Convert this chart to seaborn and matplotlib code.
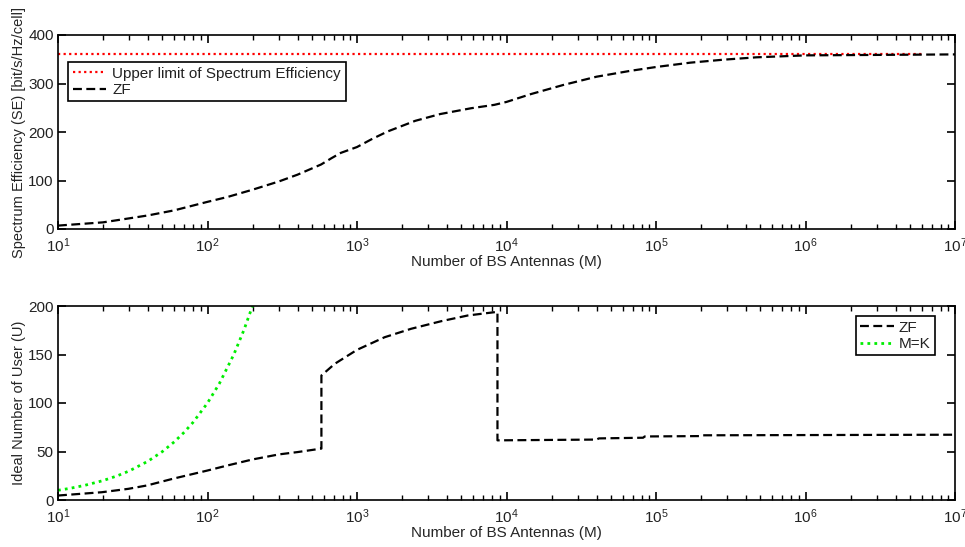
import matplotlib
matplotlib.use("Agg")
import matplotlib.pyplot as plt
import seaborn as sns
import pandas as pd
import numpy as np
from matplotlib.ticker import LogLocator, LogFormatterMathtext, NullFormatter

# ---------------- data ----------------
# Top panel: spectrum efficiency vs number of BS antennas
se_M = [10, 20, 30, 40, 60, 100, 136, 200, 300, 400, 575, 675, 780, 1000, 1250,
        1600, 2450, 3600, 5800, 8300, 10000, 14500, 24000, 40000, 67000,
        100000, 170000, 280000, 470000, 1000000, 10000000]
se_zf = [7, 13.7, 22, 28, 38.5, 56, 66, 81, 98, 112, 133, 146, 157, 169, 185,
         201, 223, 237, 249, 256, 262, 278, 297, 314, 326,
         334, 343, 349, 354, 358, 360]
upper_M = [10, 6000000]
upper_se = [360, 360]

# Bottom panel: ideal number of users
u_M = [10, 19.6, 29.5, 39.4, 59, 100, 136, 200, 300, 400, 578,
       578, 710, 1000, 1530, 2300, 3650, 5500, 8700,
       8700, 40000, 41500, 82000, 84000, 200000, 205000, 10000000]
u_zf = [4.6, 8, 11.5, 15, 22, 30.4, 35.6, 41.8, 47, 49.4, 53,
        128.4, 140.4, 154.8, 167.8, 176.5, 184.3, 190.2, 194,
        61.5, 62.3, 63.5, 64.2, 65.5, 65.9, 66.7, 67.3]
mk_M = [10, 12, 15, 20, 25, 30, 40, 50, 60, 70, 80, 100, 120, 150, 175, 200]
mk_K = [10, 12, 15, 20, 25, 30, 40, 50, 60, 70, 80, 100, 120, 150, 175, 200]

xlabel = "Number of BS Antennas (M)"
ylabel_top = "Spectrum Efficiency (SE) [bit/s/Hz/cell]"
ylabel_bot = "Ideal Number of User (U)"

# ---------------- style ----------------
sns.set_theme(style="white")
plt.rcParams["font.family"] = ["Liberation Sans", "DejaVu Sans"]
plt.rcParams["mathtext.fontset"] = "custom"
plt.rcParams["mathtext.rm"] = "Liberation Sans"
plt.rcParams["mathtext.it"] = "Liberation Sans:italic"
plt.rcParams["font.size"] = 11
plt.rcParams["axes.edgecolor"] = "black"
plt.rcParams["axes.linewidth"] = 1.2
plt.rcParams["text.color"] = "#222222"

fig = plt.figure(figsize=(9.65, 5.47), dpi=100)
ax1 = fig.add_axes([58/965, 1-229/547, 897/965, 194/547])
ax2 = fig.add_axes([58/965, 1-500/547, 897/965, 194/547])

df_top = pd.DataFrame({"M": se_M, "SE": se_zf})
df_up = pd.DataFrame({"M": upper_M, "SE": upper_se})
df_bot = pd.DataFrame({"M": u_M, "U": u_zf})
df_mk = pd.DataFrame({"M": mk_M, "U": mk_K})

sns.lineplot(data=df_up, x="M", y="SE", ax=ax1, color="red", linestyle=(0, (1, 1.5)),
             linewidth=1.6, label="Upper limit of Spectrum Efficiency",
             estimator=None, sort=False)
sns.lineplot(data=df_top, x="M", y="SE", ax=ax1, color="black", linestyle=(0, (4, 2)),
             linewidth=1.6, label="ZF", estimator=None, sort=False)

sns.lineplot(data=df_bot, x="M", y="U", ax=ax2, color="black", linestyle=(0, (4, 2)),
             linewidth=1.6, label="ZF", estimator=None, sort=False)
sns.lineplot(data=df_mk, x="M", y="U", ax=ax2, color="#00ee00", linestyle=(0, (1, 1.5)),
             linewidth=2.0, label="M=K", estimator=None, sort=False)

for ax, yl, ylim, yticks in [(ax1, ylabel_top, (0, 400), [0, 100, 200, 300, 400]),
                             (ax2, ylabel_bot, (0, 200), [0, 50, 100, 150, 200])]:
    ax.set_xscale("log")
    ax.set_xlim(10, 1e7)
    ax.set_ylim(*ylim)
    ax.set_yticks(yticks)
    ax.xaxis.set_major_locator(LogLocator(base=10, numticks=20))
    ax.xaxis.set_minor_locator(LogLocator(base=10, subs=np.arange(2, 10), numticks=100))
    ax.xaxis.set_major_formatter(LogFormatterMathtext())
    ax.xaxis.set_minor_formatter(NullFormatter())
    ax.tick_params(which="both", direction="in", bottom=True, left=True, top=True,
                   right=True, colors="black", labelcolor="#222222", labelsize=11)
    ax.tick_params(which="major", length=6, width=1.2)
    ax.tick_params(which="minor", length=3.5, width=1.0)
    ax.tick_params(axis="x", pad=5)
    ax.tick_params(axis="y", pad=3)
    ax.set_xlabel(xlabel, fontsize=11, labelpad=0)
    ax.set_ylabel(yl, fontsize=10.5, labelpad=2)
    for s in ax.spines.values():
        s.set_color("black")
        s.set_linewidth(1.2)

leg1 = ax1.legend(loc="upper left", bbox_to_anchor=(10/897, 1-27/194), borderaxespad=0,
                  fancybox=False, edgecolor="black", framealpha=1, fontsize=11,
                  handlelength=2.2, borderpad=0.3, labelspacing=0.15, handletextpad=0.4)
leg1.get_frame().set_linewidth(1.2)
leg2 = ax2.legend(loc="upper right", bbox_to_anchor=(877/897, 1-10/194), borderaxespad=0,
                  fancybox=False, edgecolor="black", framealpha=1, fontsize=11,
                  handlelength=2.2, borderpad=0.3, labelspacing=0.15, handletextpad=0.3)
leg2.get_frame().set_linewidth(1.2)

fig.savefig("out.png", dpi=100)
